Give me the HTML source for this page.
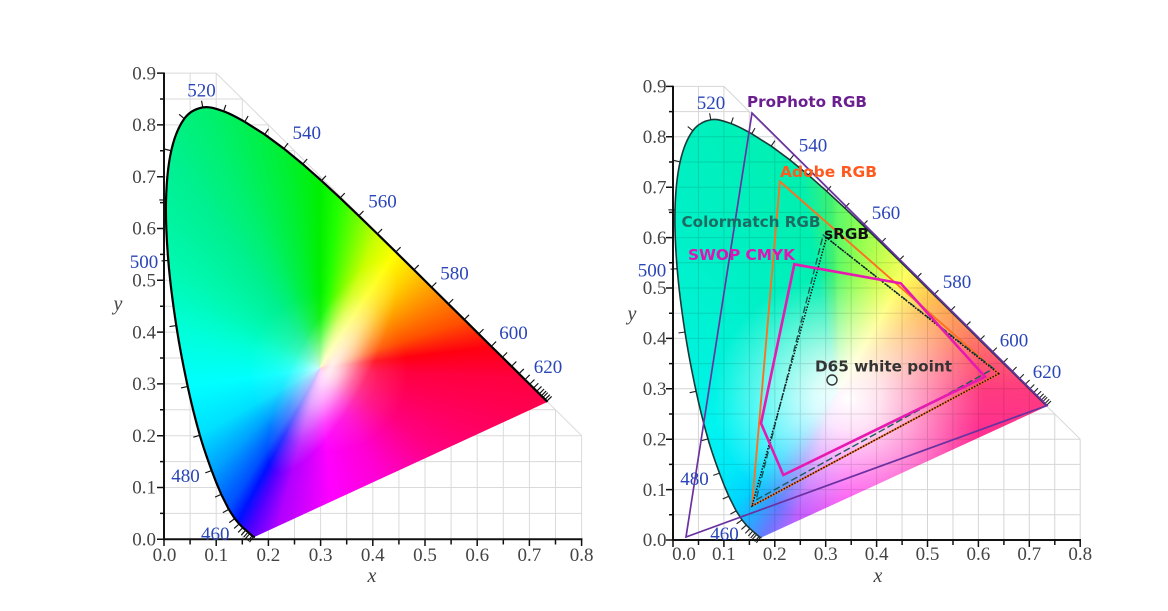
<!DOCTYPE html>
<html><head><meta charset="utf-8"><style>
html,body{margin:0;padding:0;background:#fff;width:1168px;height:611px;overflow:hidden}
.l{position:absolute;left:0;top:0;width:1168px;height:611px}
#fL{clip-path:url(#clipL);background:
 radial-gradient(circle at 328px 372px, rgba(255,255,255,.6) 0px, rgba(255,255,255,.3) 20px, rgba(255,255,255,.1) 50px, rgba(255,255,255,0) 80px),
 conic-gradient(from 0deg at 320px 368px, #00f000 0deg, #20ff00 6deg, #70ff00 14deg, #c8ff00 23deg, #ffff00 33deg, #ffd000 44deg, #ffa000 54deg, #ff5000 72deg, #ff0010 83deg, #ff0040 93deg, #ff0060 110deg, #ff0080 125deg, #ff00d0 150deg, #ff00ff 175deg, #b000ff 195deg, #5000ff 203deg, #0010ff 208deg, #0050ff 213deg, #00a0ff 226deg, #00e0ff 241deg, #00ffff 262deg, #00ffd8 286deg, #00f8b0 305deg, #00f090 325deg, #00f070 336deg, #00f030 351deg, #00f000 360deg);}
#fR{clip-path:url(#clipR);background:
 radial-gradient(ellipse 135px 125px at 848px 398px, rgba(255,255,255,1) 0%, rgba(255,255,255,.85) 25%, rgba(255,255,255,.5) 55%, rgba(255,255,255,.15) 85%, rgba(255,255,255,0) 100%),
 conic-gradient(from 0deg at 838px 392px, #60fa68 0deg, #90ff50 8deg, #d0ff50 20deg, #ffff60 30deg, #ffc050 45deg, #ff9060 62deg, #ff6070 76deg, #ff3a80 90deg, #ff3090 105deg, #ff40c0 135deg, #ff40f0 175deg, #c060ff 198deg, #6a78ff 207deg, #2aa8ff 214deg, #00d4ff 222deg, #00eaf8 234deg, #00f4f0 255deg, #00f2d8 290deg, #00f0c0 330deg, #00f0b0 350deg, #40f070 358deg, #60fa68 360deg);}
</style></head><body>

<svg class="l" width="1168" height="611" viewBox="0 0 1168 611">
 <g transform="matrix(0.522 0 0 -0.518 164 539.3)" fill="none" stroke="#dadada" stroke-width="1">
  <path vector-effect="non-scaling-stroke" d="M50 0V900 M100 0V900 M150 0V850 M200 0V800 M250 0V750 M300 0V700 M350 0V650 M400 0V600 M450 0V550 M500 0V500 M550 0V450 M600 0V400 M650 0V350 M700 0V300 M750 0V250 M800 0V200 M0 50H800 M0 100H800 M0 150H800 M0 200H800 M0 250H750 M0 300H700 M0 350H650 M0 400H600 M0 450H550 M0 500H500 M0 550H450 M0 600H400 M0 650H350 M0 700H300 M0 750H250 M0 800H200 M0 850H150 M0 900H100 M100 900L800 200"/>
 </g>
 <g transform="matrix(0.509 0 0 -0.504 673 540)" fill="none" stroke="#d6d6d6" stroke-width="1">
  <path vector-effect="non-scaling-stroke" d="M50 0V900 M100 0V900 M150 0V850 M200 0V800 M250 0V750 M300 0V700 M350 0V650 M400 0V600 M450 0V550 M500 0V500 M550 0V450 M600 0V400 M650 0V350 M700 0V300 M750 0V250 M800 0V200 M0 50H800 M0 100H800 M0 150H800 M0 200H800 M0 250H750 M0 300H700 M0 350H650 M0 400H600 M0 450H550 M0 500H500 M0 550H450 M0 600H400 M0 650H350 M0 700H300 M0 750H250 M0 800H200 M0 850H150 M0 900H100 M100 900L800 200"/>
 </g>
</svg>

<div class="l" id="fL"></div>
<div class="l" id="fR"></div>

<svg class="l" width="1168" height="611" viewBox="0 0 1168 611">
 <defs>
  <path id="loc" vector-effect="non-scaling-stroke" d="M174.1 5 L173.3 4.8 L171.4 5.1 L168.9 6.9 L164.4 10.9 L156.6 17.7 L151 22.7 L144 29.7 L135.5 39.9 L124.1 57.8 L109.6 86.8 C104.13 99.28 98.12 113.72 91.3 132.7 C84.48 151.68 76.35 173.65 68.7 200.7 C61.05 227.75 52.93 259.67 45.4 295 C37.87 330.33 29.7 372.13 23.5 412.7 C17.3 453.3 11.47 498.05 8.2 538.4 C4.93 578.75 2.95 619.5 3.9 654.8 C4.85 690.1 8.07 724 13.9 750.2 C19.73 776.4 28.83 798.07 38.9 812 C48.97 825.93 61.75 831.43 74.3 833.8 C86.85 836.17 100.8 830.85 114.2 826.2 C127.6 821.55 141.58 813.33 154.7 805.9 L192.9 781.6 L229.6 754.3 L265.8 724.3 L301.6 692.3 L337.3 658.9 L373.1 624.5 L408.7 589.6 L444.1 554.7 L478.8 520.2 L512.5 486.6 L544.8 454.4 L575.2 424.2 L602.9 396.5 L627 372.5 L648.2 351.4 L665.8 334 L680.1 319.7 L691.5 308.3 L700.6 299.3 L707.9 292 L714 285.9 L719 280.9 L723 277 L730 270 L734.7 265.3"/>
  <clipPath id="clipL" clipPathUnits="userSpaceOnUse">
   <path transform="matrix(0.522 0 0 -0.518 164 539.3)" d="M174.1 5 L173.3 4.8 L171.4 5.1 L168.9 6.9 L164.4 10.9 L156.6 17.7 L151 22.7 L144 29.7 L135.5 39.9 L124.1 57.8 L109.6 86.8 C104.13 99.28 98.12 113.72 91.3 132.7 C84.48 151.68 76.35 173.65 68.7 200.7 C61.05 227.75 52.93 259.67 45.4 295 C37.87 330.33 29.7 372.13 23.5 412.7 C17.3 453.3 11.47 498.05 8.2 538.4 C4.93 578.75 2.95 619.5 3.9 654.8 C4.85 690.1 8.07 724 13.9 750.2 C19.73 776.4 28.83 798.07 38.9 812 C48.97 825.93 61.75 831.43 74.3 833.8 C86.85 836.17 100.8 830.85 114.2 826.2 C127.6 821.55 141.58 813.33 154.7 805.9 L192.9 781.6 L229.6 754.3 L265.8 724.3 L301.6 692.3 L337.3 658.9 L373.1 624.5 L408.7 589.6 L444.1 554.7 L478.8 520.2 L512.5 486.6 L544.8 454.4 L575.2 424.2 L602.9 396.5 L627 372.5 L648.2 351.4 L665.8 334 L680.1 319.7 L691.5 308.3 L700.6 299.3 L707.9 292 L714 285.9 L719 280.9 L723 277 L730 270 L734.7 265.3 Z"/>
  </clipPath>
  <clipPath id="clipR" clipPathUnits="userSpaceOnUse">
   <path transform="matrix(0.509 0 0 -0.504 673 540)" d="M174.1 5 L173.3 4.8 L171.4 5.1 L168.9 6.9 L164.4 10.9 L156.6 17.7 L151 22.7 L144 29.7 L135.5 39.9 L124.1 57.8 L109.6 86.8 C104.13 99.28 98.12 113.72 91.3 132.7 C84.48 151.68 76.35 173.65 68.7 200.7 C61.05 227.75 52.93 259.67 45.4 295 C37.87 330.33 29.7 372.13 23.5 412.7 C17.3 453.3 11.47 498.05 8.2 538.4 C4.93 578.75 2.95 619.5 3.9 654.8 C4.85 690.1 8.07 724 13.9 750.2 C19.73 776.4 28.83 798.07 38.9 812 C48.97 825.93 61.75 831.43 74.3 833.8 C86.85 836.17 100.8 830.85 114.2 826.2 C127.6 821.55 141.58 813.33 154.7 805.9 L192.9 781.6 L229.6 754.3 L265.8 724.3 L301.6 692.3 L337.3 658.9 L373.1 624.5 L408.7 589.6 L444.1 554.7 L478.8 520.2 L512.5 486.6 L544.8 454.4 L575.2 424.2 L602.9 396.5 L627 372.5 L648.2 351.4 L665.8 334 L680.1 319.7 L691.5 308.3 L700.6 299.3 L707.9 292 L714 285.9 L719 280.9 L723 277 L730 270 L734.7 265.3 Z"/>
  </clipPath>
  <radialGradient id="wb">
   <stop offset="0" stop-color="#fff" stop-opacity="0.85"/>
   <stop offset="0.35" stop-color="#fff" stop-opacity="0.55"/>
   <stop offset="0.7" stop-color="#fff" stop-opacity="0.2"/>
   <stop offset="1" stop-color="#fff" stop-opacity="0"/>
  </radialGradient>
  <marker id="tkL" markerUnits="userSpaceOnUse" orient="auto" markerWidth="40" markerHeight="40" refX="0" refY="0" style="overflow:visible">
   <line x1="0" y1="0" x2="0" y2="13" stroke="#111" stroke-width="2.2"/>
  </marker>
  <marker id="tkR" markerUnits="userSpaceOnUse" orient="auto" markerWidth="40" markerHeight="40" refX="0" refY="0" style="overflow:visible">
   <line x1="0" y1="0" x2="0" y2="13" stroke="#222" stroke-width="2.2"/>
  </marker>
 </defs>

 <!-- left white band -->
 <g clip-path="url(#clipL)">
  <ellipse cx="0" cy="0" rx="120" ry="36" transform="translate(332 366) rotate(-61.6)" fill="url(#wb)"/>
 </g>

 <!-- right grid overlay over colors -->
 <g clip-path="url(#clipR)">
  <g transform="matrix(0.509 0 0 -0.504 673 540)" fill="none" stroke="rgba(0,0,0,0.12)">
   <path vector-effect="non-scaling-stroke" d="M50 0V900 M100 0V900 M150 0V850 M200 0V800 M250 0V750 M300 0V700 M350 0V650 M400 0V600 M450 0V550 M500 0V500 M550 0V450 M600 0V400 M650 0V350 M700 0V300 M750 0V250 M800 0V200 M0 50H800 M0 100H800 M0 150H800 M0 200H800 M0 250H750 M0 300H700 M0 350H650 M0 400H600 M0 450H550 M0 500H500 M0 550H450 M0 600H400 M0 650H350 M0 700H300 M0 750H250 M0 800H200 M0 850H150 M0 900H100"/>
  </g>
 </g>

 <!-- LEFT locus outline and ticks -->
 <g transform="matrix(0.522 0 0 -0.518 164 539.3)">
  <use href="#loc" fill="none" stroke="#000" stroke-width="2.2"/>
  <polyline fill="none" stroke="none" marker-start="url(#tkL)" marker-mid="url(#tkL)" marker-end="url(#tkL)" points="171.4,5.1 168.9,6.9 164.4,10.9 161.1,13.8 156.6,17.7 151,22.7 144,29.7 135.5,39.9 124.1,57.8 109.6,86.8 91.3,132.7 68.7,200.7 45.4,295 23.5,412.7 8.2,538.4 3.9,654.8 13.9,750.2 38.9,812 74.3,833.8 114.2,826.2 154.7,805.9 192.9,781.6 229.6,754.3 265.8,724.3 301.6,692.3 337.3,658.9 373.1,624.5 408.7,589.6 444.1,554.7 478.8,520.2 512.5,486.6 544.8,454.4 575.2,424.2 602.9,396.5 627,372.5 648.2,351.4 665.8,334 680.1,319.7 691.5,308.3 700.6,299.3 707.9,292 714,285.9 719,280.9 723,277 726,274 730,270 733.4,266.6"/>
 </g>

 <!-- RIGHT locus outline and ticks -->
 <g transform="matrix(0.509 0 0 -0.504 673 540)">
  <use href="#loc" fill="none" stroke="#1b3838" stroke-width="1.6"/>
  <polyline fill="none" stroke="none" marker-start="url(#tkR)" marker-mid="url(#tkR)" marker-end="url(#tkR)" points="171.4,5.1 168.9,6.9 164.4,10.9 161.1,13.8 156.6,17.7 151,22.7 144,29.7 135.5,39.9 124.1,57.8 109.6,86.8 91.3,132.7 68.7,200.7 45.4,295 23.5,412.7 8.2,538.4 3.9,654.8 13.9,750.2 38.9,812 74.3,833.8 114.2,826.2 154.7,805.9 192.9,781.6 229.6,754.3 265.8,724.3 301.6,692.3 337.3,658.9 373.1,624.5 408.7,589.6 444.1,554.7 478.8,520.2 512.5,486.6 544.8,454.4 575.2,424.2 602.9,396.5 627,372.5 648.2,351.4 665.8,334 680.1,319.7 691.5,308.3 700.6,299.3 707.9,292 714,285.9 719,280.9 723,277 726,274 730,270 733.4,266.6"/>
 </g>

 <!-- RIGHT gamut overlays -->
 <polygon points="1047,405.5 752,113 686,537" fill="none" stroke="#6a32a0" stroke-width="1.7"/>
 <polygon points="998.8,373.7 779.9,181.5 752,506" fill="none" stroke="#ff7020" stroke-width="1.9"/>
 <polygon points="993.7,368.6 823.2,235.1 756,500" fill="none" stroke="#1a5c58" stroke-width="1.4" stroke-dasharray="7 3"/>
 <polygon points="998.8,373.7 826.5,237.6 752,506" fill="none" stroke="#111" stroke-width="1.5" stroke-dasharray="1.5 1.5"/>
 <polygon points="794.3,264.3 900.7,283.3 985,376.7 783.3,475 761,423.3" fill="none" stroke="#e619b0" stroke-width="2.6" stroke-linejoin="miter"/>
 <circle cx="832" cy="380" r="5" fill="none" stroke="#333" stroke-width="1.4"/>

 <!-- AXES LEFT -->
 <g stroke="#111" fill="none">
  <path stroke-width="2" d="M164 539.3V72.5 M163 539.3H582.5"/>
  <path stroke-width="1.5" d="M157 539.3H164 M157 487.5H164 M157 435.7H164 M157 383.9H164 M157 332.1H164 M157 280.3H164 M157 228.5H164 M157 176.7H164 M157 124.9H164 M157 73.1H164 M160 513.4H164 M160 461.6H164 M160 409.8H164 M160 358H164 M160 306.2H164 M160 254.4H164 M160 202.6H164 M160 150.8H164 M160 99H164 M164 539.3V546 M216.2 539.3V546 M268.4 539.3V546 M320.6 539.3V546 M372.8 539.3V546 M425 539.3V546 M477.2 539.3V546 M529.4 539.3V546 M581.6 539.3V546 M190.1 539.3V544.5 M242.3 539.3V544.5 M294.5 539.3V544.5 M346.7 539.3V544.5 M398.9 539.3V544.5 M451.1 539.3V544.5 M503.3 539.3V544.5 M555.5 539.3V544.5"/>
 </g>
 <!-- AXES RIGHT -->
 <g stroke="#111" fill="none">
  <path stroke-width="2" d="M673 540V85.8 M672 540H1081"/>
  <path stroke-width="1.5" d="M666 540H673 M666 489.6H673 M666 439.2H673 M666 388.8H673 M666 338.4H673 M666 288H673 M666 237.6H673 M666 187.2H673 M666 136.8H673 M666 86.4H673 M669 514.8H673 M669 464.4H673 M669 414H673 M669 363.6H673 M669 313.2H673 M669 262.8H673 M669 212.4H673 M669 162H673 M669 111.6H673 M673 540V547 M723.9 540V547 M774.8 540V547 M825.7 540V547 M876.6 540V547 M927.5 540V547 M978.4 540V547 M1029.3 540V547 M1080.2 540V547 M698.5 540V545 M749.4 540V545 M800.3 540V545 M851.2 540V545 M902.1 540V545 M953 540V545 M1003.9 540V545 M1054.8 540V545"/>
 </g>

 <!-- tick labels -->
 <g font-family="Liberation Serif, serif" font-size="19" fill="#444">
  <g text-anchor="end">
   <text x="156" y="545.5">0.0</text><text x="156" y="493.7">0.1</text><text x="156" y="441.9">0.2</text><text x="156" y="390.1">0.3</text><text x="156" y="338.3">0.4</text><text x="156" y="286.5">0.5</text><text x="156" y="234.7">0.6</text><text x="156" y="182.9">0.7</text><text x="156" y="131.1">0.8</text><text x="156" y="79.3">0.9</text>
   <text x="666.5" y="546.2">0.0</text><text x="666.5" y="495.8">0.1</text><text x="666.5" y="445.4">0.2</text><text x="666.5" y="395">0.3</text><text x="666.5" y="344.6">0.4</text><text x="666.5" y="294.2">0.5</text><text x="666.5" y="243.8">0.6</text><text x="666.5" y="193.4">0.7</text><text x="666.5" y="143">0.8</text><text x="666.5" y="92.6">0.9</text>
  </g>
  <g text-anchor="middle">
   <text x="164.5" y="561">0.0</text><text x="216.2" y="561">0.1</text><text x="268.4" y="561">0.2</text><text x="320.6" y="561">0.3</text><text x="372.8" y="561">0.4</text><text x="425" y="561">0.5</text><text x="477.2" y="561">0.6</text><text x="529.4" y="561">0.7</text><text x="581.6" y="561">0.8</text>
   <text x="684" y="560">0.0</text><text x="723.9" y="560">0.1</text><text x="774.8" y="560">0.2</text><text x="825.7" y="560">0.3</text><text x="876.6" y="560">0.4</text><text x="927.5" y="560">0.5</text><text x="978.4" y="560">0.6</text><text x="1029.3" y="560">0.7</text><text x="1080.2" y="560">0.8</text>
  </g>
  <g font-style="italic" font-size="20" text-anchor="middle">
   <text x="372" y="582">x</text><text x="118" y="310">y</text>
   <text x="878" y="582">x</text><text x="632" y="320">y</text>
  </g>
 </g>

 <!-- wavelength labels -->
 <g font-family="Liberation Serif, serif" font-size="19" fill="#2a45b8" text-anchor="middle">
  <text x="201.5" y="96.5">520</text>
  <text x="306.7" y="139">540</text>
  <text x="382.5" y="207.5">560</text>
  <text x="454.5" y="279.5">580</text>
  <text x="513.5" y="339">600</text>
  <text x="548" y="373">620</text>
  <text x="144" y="268">500</text>
  <text x="185.5" y="482">480</text>
  <text x="215.3" y="540">460</text>

  <text x="711" y="109">520</text>
  <text x="813" y="151.5">540</text>
  <text x="886" y="219">560</text>
  <text x="957" y="288">580</text>
  <text x="1014" y="346.5">600</text>
  <text x="1047" y="378">620</text>
  <text x="652" y="276.5">500</text>
  <text x="694.5" y="485">480</text>
  <text x="724.5" y="540">460</text>
 </g>

 <!-- gamut labels -->
 <g font-family="DejaVu Sans, Liberation Sans, sans-serif" font-weight="bold" font-size="15">
  <text x="747" y="107" fill="#6b1f8f" textLength="120" lengthAdjust="spacingAndGlyphs">ProPhoto RGB</text>
  <text x="780" y="177" fill="#ff5a1e" textLength="97" lengthAdjust="spacingAndGlyphs">Adobe RGB</text>
  <text x="681.5" y="227" fill="#1d6b62" textLength="139" lengthAdjust="spacingAndGlyphs">Colormatch RGB</text>
  <text x="824" y="239" fill="#111" textLength="45" lengthAdjust="spacingAndGlyphs">sRGB</text>
  <text x="688" y="260" fill="#e014b4" textLength="107" lengthAdjust="spacingAndGlyphs">SWOP CMYK</text>
  <text x="815" y="371.5" fill="#333" textLength="137" lengthAdjust="spacingAndGlyphs">D65 white point</text>
 </g>
</svg>
</body></html>
